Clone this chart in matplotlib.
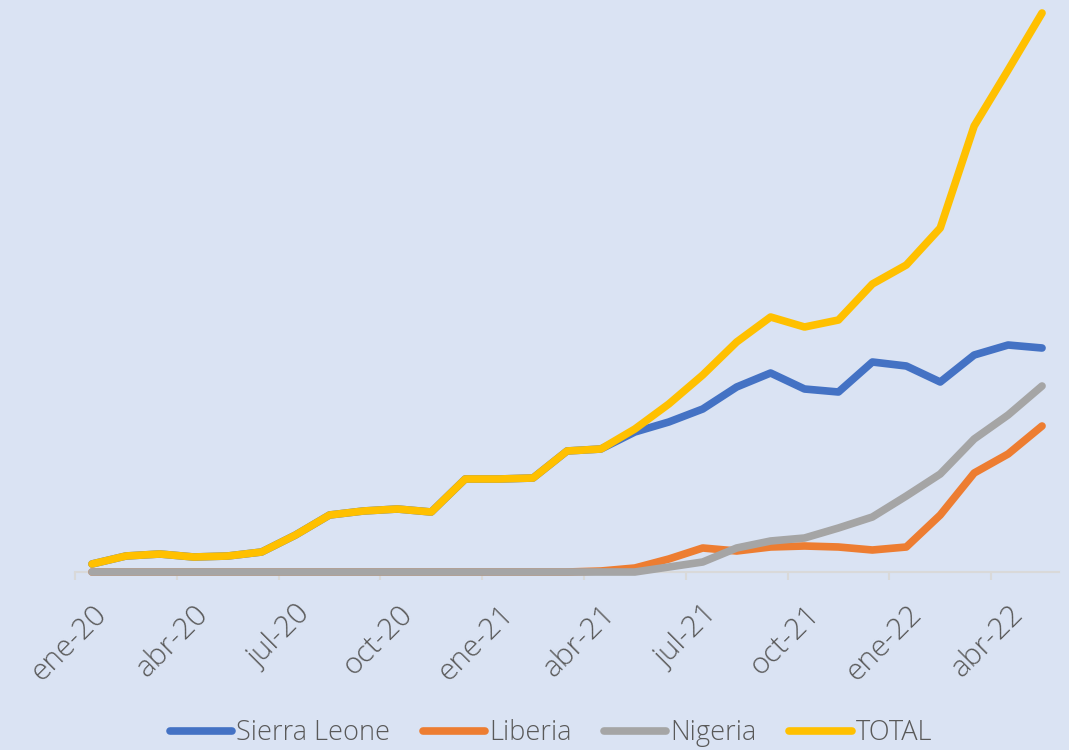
import numpy as np
import matplotlib
matplotlib.use("Agg")
import matplotlib.pyplot as plt

months = ['ene-20', 'feb-20', 'mar-20', 'abr-20', 'may-20', 'jun-20', 'jul-20', 'ago-20',
          'sep-20', 'oct-20', 'nov-20', 'dic-20', 'ene-21', 'feb-21', 'mar-21', 'abr-21',
          'may-21', 'jun-21', 'jul-21', 'ago-21', 'sep-21', 'oct-21', 'nov-21', 'dic-21',
          'ene-22', 'feb-22', 'mar-22', 'abr-22', 'may-22']

sierra_leone = [8, 16, 18, 15, 16, 20, 37, 57, 61, 63, 60, 93, 93, 94, 121, 123,
                140, 150, 163, 185, 199, 183, 180, 210, 206, 190, 217, 227, 224]
liberia = [0, 0, 0, 0, 0, 0, 0, 0, 0, 0, 0, 0, 0, 0, 0, 1,
           4, 13, 24, 21, 25, 26, 25, 22, 25, 57, 99, 118, 146]
nigeria = [0, 0, 0, 0, 0, 0, 0, 0, 0, 0, 0, 0, 0, 0, 0, 0,
           0, 5, 10, 24, 31, 34, 44, 55, 76, 98, 133, 157, 186]
total = [8, 16, 18, 15, 16, 20, 37, 57, 61, 63, 60, 93, 93, 94, 121, 123,
         143, 168, 197, 230, 255, 245, 252, 288, 307, 344, 446, 502, 559]

series = [('Sierra Leone', sierra_leone, '#4472C4'),
          ('Liberia', liberia, '#ED7D31'),
          ('Nigeria', nigeria, '#A5A5A5'),
          ('TOTAL', total, '#FFC000')]

bg = '#DAE3F3'
txt = '#595959'
font = ['Open Sans', 'DejaVu Sans']

fig = plt.figure(figsize=(10.69, 7.5), dpi=100, facecolor=bg)
ax = fig.add_axes([75/1069, 178/750, 984/1069, 572/750])
ax.set_facecolor(bg)

x = np.arange(len(months))
for name, vals, col in series:
    ax.plot(x, vals, color=col, lw=5.5, label=name, zorder=3, clip_on=False,
            solid_capstyle='round', solid_joinstyle='round')

ax.set_xlim(-0.5, len(months) - 0.5)
ax.set_ylim(0, 572)

for s in ['left', 'right', 'top']:
    ax.spines[s].set_visible(False)
ax.spines['bottom'].set_color('#D9D9D9')
ax.spines['bottom'].set_linewidth(1.5)
ax.set_yticks([])

# tick marks between categories, labels at every third month
ax.set_xticks(np.arange(-0.5, len(months) - 1, 3))
ax.set_xticklabels([])
ax.tick_params(axis='x', which='major', length=6, width=1.5, color='#D9D9D9')
ax.set_xticks(x[::3], minor=True)
ax.set_xticklabels(months[::3], minor=True, rotation=45, ha='right',
                   rotation_mode='anchor', color=txt, fontsize=21.5,
                   family=font, fontweight='light')
ax.tick_params(axis='x', which='minor', length=0, pad=20)

leg = fig.legend(loc='center', bbox_to_anchor=(551/1069, 17/750), ncol=4,
                 frameon=False, handlelength=2.3, handletextpad=0.15,
                 columnspacing=1.2,
                 prop={'family': font, 'size': 19.5, 'weight': 'light'})
for t in leg.get_texts():
    t.set_color(txt)

plt.savefig('out.png', dpi=100, facecolor=bg)
